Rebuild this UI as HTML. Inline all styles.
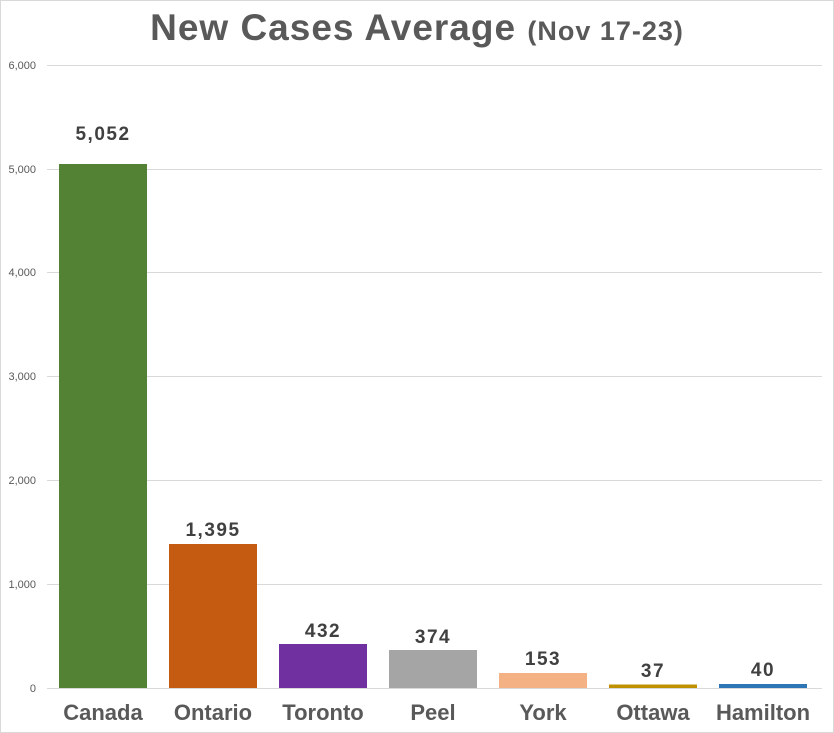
<!DOCTYPE html>
<html><head><meta charset="utf-8"><style>
html,body{margin:0;padding:0;background:#fff;}
svg{display:block;font-family:"Liberation Sans",sans-serif;}
</style></head><body>
<svg width="834" height="733" viewBox="0 0 834 733">
<rect x="0.5" y="0.5" width="833" height="732" fill="#fff" stroke="#d9d9d9"/>
<text x="417" y="40" text-anchor="middle" font-size="37" font-weight="bold" fill="#595959" letter-spacing="1">New Cases Average <tspan font-size="27">(Nov 17-23)</tspan></text>
<g stroke="#d9d9d9" stroke-width="1">
<line x1="47" x2="822" y1="65.5" y2="65.5"/>
<line x1="47" x2="822" y1="169.5" y2="169.5"/>
<line x1="47" x2="822" y1="272.5" y2="272.5"/>
<line x1="47" x2="822" y1="376.5" y2="376.5"/>
<line x1="47" x2="822" y1="480.5" y2="480.5"/>
<line x1="47" x2="822" y1="584.5" y2="584.5"/>
<line x1="47" x2="822" y1="688.5" y2="688.5"/>
</g>
<g font-size="11" fill="#595959" text-anchor="end">
<text x="36" y="69">6,000</text>
<text x="36" y="173">5,000</text>
<text x="36" y="276">4,000</text>
<text x="36" y="380">3,000</text>
<text x="36" y="484">2,000</text>
<text x="36" y="588">1,000</text>
<text x="36" y="692">0</text>
</g>
<rect x="59" y="164" width="88" height="524" fill="#548235"/>
<rect x="169" y="544" width="88" height="144" fill="#c55a11"/>
<rect x="279" y="644" width="88" height="44" fill="#7030a0"/>
<rect x="389" y="650" width="88" height="38" fill="#a5a5a5"/>
<rect x="499" y="673" width="88" height="15" fill="#f4b183"/>
<rect x="609" y="684.5" width="88" height="3.5" fill="#bf9000"/>
<rect x="719" y="684" width="88" height="4" fill="#2e75b6"/>
<g font-size="19" font-weight="bold" fill="#404040" text-anchor="middle" letter-spacing="1.5">
<text x="103" y="140">5,052</text>
<text x="213" y="536">1,395</text>
<text x="323" y="637">432</text>
<text x="433" y="643">374</text>
<text x="543" y="665">153</text>
<text x="653" y="677">37</text>
<text x="763" y="676">40</text>
</g>
<g font-size="22" font-weight="bold" fill="#595959" text-anchor="middle">
<text x="103" y="720">Canada</text>
<text x="213" y="720">Ontario</text>
<text x="323" y="720">Toronto</text>
<text x="433" y="720">Peel</text>
<text x="543" y="720">York</text>
<text x="653" y="720">Ottawa</text>
<text x="763" y="720">Hamilton</text>
</g>
</svg>
</body></html>
